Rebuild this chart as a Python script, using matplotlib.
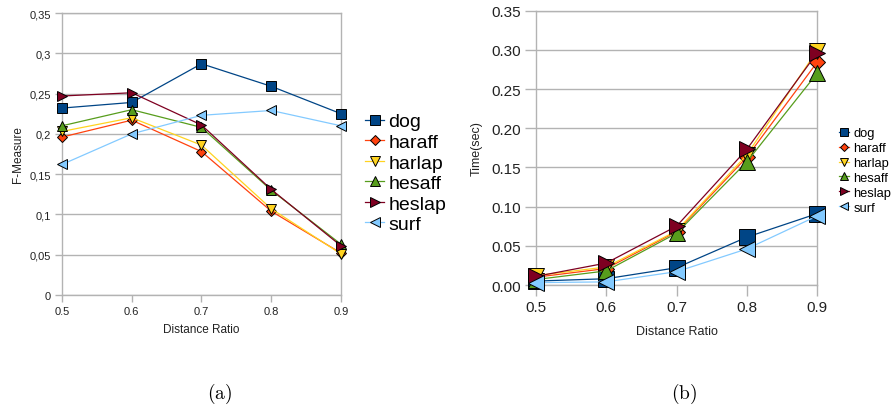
"""F-Measure / 처리 시간 비교 차트 (distance ratio 별)."""

import matplotlib
matplotlib.use("Agg")
import matplotlib.pyplot as plt
from matplotlib.ticker import FuncFormatter

plt.rcParams["font.family"] = ["Liberation Sans", "DejaVu Sans"]
plt.rcParams["mathtext.fontset"] = "cm"

ratios = [0.5, 0.6, 0.7, 0.8, 0.9]
detectors = ["dog", "haraff", "harlap", "hesaff", "heslap", "surf"]

fmeasure = {
    "dog":    [0.232, 0.239, 0.287, 0.259, 0.225],
    "haraff": [0.196, 0.217, 0.178, 0.104, 0.052],
    "harlap": [0.203, 0.220, 0.186, 0.107, 0.051],
    "hesaff": [0.210, 0.230, 0.208, 0.130, 0.063],
    "heslap": [0.247, 0.251, 0.211, 0.131, 0.061],
    "surf":   [0.162, 0.200, 0.223, 0.229, 0.210],
}

time_sec = {
    "dog":    [0.005, 0.008, 0.022, 0.061, 0.091],
    "haraff": [0.010, 0.021, 0.068, 0.163, 0.284],
    "harlap": [0.012, 0.023, 0.069, 0.166, 0.299],
    "hesaff": [0.007, 0.018, 0.066, 0.157, 0.270],
    "heslap": [0.011, 0.028, 0.075, 0.173, 0.296],
    "surf":   [0.003, 0.004, 0.017, 0.046, 0.088],
}

# LibreOffice 기본 팔레트
colors = {
    "dog": "#004586",
    "haraff": "#ff420e",
    "harlap": "#ffd320",
    "hesaff": "#579d1c",
    "heslap": "#7e0021",
    "surf": "#83caff",
}
markers = {"dog": "s", "haraff": "D", "harlap": "v", "hesaff": "^", "heslap": ">", "surf": "<"}
msize_scale = {"dog": 1.0, "haraff": 0.75, "harlap": 1.0, "hesaff": 1.0, "heslap": 1.0, "surf": 1.0}

GRID = "#b3b3b3"

fig = plt.figure(figsize=(8.95, 4.06), dpi=100)
ax1 = fig.add_axes([62 / 895, 1 - 296 / 406, 279 / 895, 282 / 406])
ax2 = fig.add_axes([536 / 895, 1 - 286 / 406, 281 / 895, 274.3 / 406])


def style_axes(ax, tick_len, label_size):
    ax.set_xlim(0.5, 0.9)
    ax.set_ylim(0, 0.35)
    ax.set_xticks(ratios)
    ax.set_yticks([i * 0.05 for i in range(8)])
    ax.grid(True, axis="y", color=GRID, linewidth=1.0)
    ax.set_axisbelow(True)
    for sp in ax.spines.values():
        sp.set_color(GRID)
        sp.set_linewidth(1.0)
    ax.tick_params(length=tick_len, width=1.0, color=GRID, labelsize=label_size,
                   labelcolor="#222222", pad=3)


def draw(ax, data, ms, lw):
    for name in detectors:
        ax.plot(ratios, data[name], color=colors[name], linewidth=lw,
                marker=markers[name], markersize=ms * msize_scale[name],
                markerfacecolor=colors[name], markeredgecolor="black",
                markeredgewidth=0.7, clip_on=False, label=name, zorder=3)


# (a) F-Measure
draw(ax1, fmeasure, 7, 0.9)
style_axes(ax1, 5, 8)
ax1.yaxis.set_major_formatter(FuncFormatter(lambda v, _: f"{v:g}".replace(".", ",")))
ax1.xaxis.set_major_formatter(FuncFormatter(lambda v, _: f"{v:.1f}"))
ax1.set_xlabel("Distance Ratio", fontsize=8.5, color="#222222", labelpad=5)
ax1.set_ylabel("F-Measure", fontsize=8.5, color="#222222", labelpad=4)
ax1.legend(loc="center left", bbox_to_anchor=(365 / 895, 1 - 174 / 406),
           bbox_transform=fig.transFigure, frameon=False, fontsize=14,
           handlelength=1.0, handletextpad=0.2, labelspacing=0.15,
           borderpad=0, borderaxespad=0, markerscale=1.0)

# (b) Time
draw(ax2, time_sec, 11, 0.9)
style_axes(ax2, 8, 11)
ax2.yaxis.set_major_formatter(FuncFormatter(lambda v, _: f"{v:.2f}"))
ax2.xaxis.set_major_formatter(FuncFormatter(lambda v, _: f"{v:.1f}"))
ax2.set_xlabel("Distance Ratio", fontsize=9, color="#222222", labelpad=8)
ax2.set_ylabel("Time(sec)", fontsize=9, color="#222222", labelpad=6)
ax2.legend(loc="center left", bbox_to_anchor=(839 / 895, 1 - 171.5 / 406),
           bbox_transform=fig.transFigure, frameon=False, fontsize=9.3,
           handlelength=0.8, handletextpad=0.3, labelspacing=0.22,
           borderpad=0, borderaxespad=0, markerscale=0.55)

fig.text(220 / 895, 1 - 394 / 406, r"$\mathrm{(a)}$", ha="center", va="center", fontsize=14)
fig.text(684 / 895, 1 - 394 / 406, r"$\mathrm{(b)}$", ha="center", va="center", fontsize=14)

fig.savefig("out.png", dpi=100)
plt.close(fig)
